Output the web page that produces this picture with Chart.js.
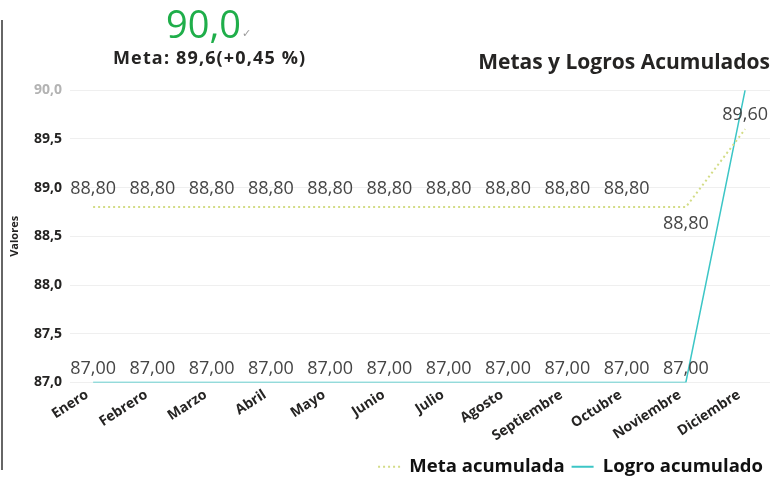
<!DOCTYPE html>
<html><head><meta charset="utf-8">
<script src="https://cdn.jsdelivr.net/npm/chart.js@4"></script>
<style>
html,body{margin:0;padding:0;background:#fff;}
#wrap{position:relative;width:773px;height:486px;overflow:hidden;font-family:"Open Sans","Noto Sans",sans-serif;}
canvas{position:absolute;left:0;top:0;}
#kpi{position:absolute;left:166px;top:-1px;font-size:38px;line-height:48px;color:#1fae4a;font-family:"Open Sans",sans-serif;}
#kpi .chk{font-size:11px;color:#9a9a9a;vertical-align:top;position:relative;top:10px;left:1px;}
#meta{position:absolute;left:113px;top:45px;font-size:18px;line-height:24px;font-weight:bold;color:#252423;letter-spacing:1.15px;}
#vline{position:absolute;left:1px;top:20px;width:2px;height:450px;background:#666;}
</style></head><body>
<div id="wrap">
<canvas id="c" width="773" height="486"></canvas>
<div id="kpi">90,0<span class="chk">&#10003;</span></div>
<div id="meta">Meta: 89,6(+0,45 %)</div>
<div id="vline"></div>
</div>
<script>
const months = ["Enero","Febrero","Marzo","Abril","Mayo","Junio","Julio","Agosto","Septiembre","Octubre","Noviembre","Diciembre"];
const metaAcumulada = [88.8,88.8,88.8,88.8,88.8,88.8,88.8,88.8,88.8,88.8,88.8,89.6];
const logroAcumulado = [87.0,87.0,87.0,87.0,87.0,87.0,87.0,87.0,87.0,87.0,87.0,90.0];
const yTickValues = [87.0,87.5,88.0,88.5,89.0,89.5,90.0];
const seriesNames = ["Meta acumulada","Logro acumulado"];
const chartTitle = "Metas y Logros Acumulados";

const fmt2 = v => v.toFixed(2).replace('.', ',');
const fmt1 = v => v.toFixed(1).replace('.', ',');

const labelPlugin = {
  id: 'pointLabels',
  afterDatasetsDraw(chart) {
    const ctx = chart.ctx;
    ctx.save();
    ctx.font = '18px "Open Sans", "Noto Sans", sans-serif';
    ctx.fillStyle = '#454545';
    ctx.textAlign = 'center';
    ctx.textBaseline = 'middle';
    chart.data.datasets.forEach((ds, di) => {
      const meta = chart.getDatasetMeta(di);
      meta.data.forEach((pt, i) => {
        const v = ds.data[i].y;
        if (di === 1 && i === months.length - 1) return;
        let y;
        if (di === 0) {
          if (i === months.length - 2) { y = pt.y + 17; }
          else if (i === months.length - 1) { y = pt.y - 14; }
          else { y = pt.y - 18; }
        } else {
          y = pt.y - 14;
        }
        ctx.fillText(fmt2(v), pt.x, y);
      });
    });
    ctx.restore();
  }
};

const toXY = arr => arr.map((v, i) => ({x: i, y: v}));

new Chart(document.getElementById('c'), {
  type: 'line',
  data: {
    datasets: [
      {
        label: seriesNames[0],
        data: toXY(metaAcumulada),
        borderColor: '#d3dc86',
        backgroundColor: '#d3dc86',
        borderWidth: 2,
        borderDash: [2, 3],
        pointRadius: 0,
        tension: 0
      },
      {
        label: seriesNames[1],
        data: toXY(logroAcumulado),
        borderColor: '#3cc6c6',
        backgroundColor: '#3cc6c6',
        borderWidth: 1.5,
        pointRadius: 0,
        tension: 0
      }
    ]
  },
  options: {
    responsive: false,
    animation: false,
    devicePixelRatio: 1,
    layout: { padding: { top: 40, right: 3, left: 8, bottom: 0 } },
    plugins: {
      title: {
        display: true,
        text: chartTitle,
        align: 'end',
        color: '#252423',
        font: { family: '"Open Sans", sans-serif', size: 21, weight: 'bold' },
        padding: { top: 10, bottom: 15 }
      },
      legend: {
        display: true,
        position: 'bottom',
        align: 'end',
        labels: {
          usePointStyle: true,
          pointStyle: 'line',
          pointStyleWidth: 22,
          color: '#111',
          font: { family: '"Open Sans", sans-serif', size: 18.5, weight: 'bold' },
          padding: 7,
          sort: (a, b) => a.datasetIndex - b.datasetIndex,
          generateLabels: chart => {
            const items = Chart.defaults.plugins.legend.labels.generateLabels(chart);
            items.forEach(it => {
              const ds = chart.data.datasets[it.datasetIndex];
              it.lineDash = ds.borderDash || [];
              it.lineWidth = 2;
              it.strokeStyle = ds.borderColor;
            });
            return items;
          }
        }
      },
      tooltip: { enabled: false }
    },
    scales: {
      x: {
        type: 'linear',
        min: -0.39,
        max: 11.42,
        afterBuildTicks: axis => { axis.ticks = months.map((m, i) => ({ value: i })); },
        afterFit: s => { s.height = 68; },
        ticks: {
          autoSkip: false,
          maxRotation: 33,
          minRotation: 33,
          padding: 4,
          labelOffset: -6,
          color: '#252423',
          font: { family: '"Open Sans", sans-serif', size: 14, weight: 'bold' },
          callback: v => months[v]
        },
        grid: { display: false, drawTicks: false },
        border: { display: false }
      },
      y: {
        min: 87,
        max: 90,
        afterBuildTicks: axis => { axis.ticks = yTickValues.map(v => ({ value: v })); },
        afterFit: s => { s.width = 62; },
        ticks: {
          padding: 8,
          color: c => (c.tick && c.tick.value === 90 ? '#b3b3b3' : '#252423'),
          font: { family: '"Open Sans", sans-serif', size: 14, weight: 'bold' },
          callback: v => fmt1(v)
        },
        title: {
          display: true,
          text: 'Valores',
          color: '#252423',
          font: { family: '"Open Sans", sans-serif', size: 11, weight: 'bold' },
          padding: 0
        },
        grid: { color: '#efefef', lineWidth: 1, drawTicks: false },
        border: { display: false }
      }
    }
  },
  plugins: [labelPlugin]
});
</script>
</body></html>
